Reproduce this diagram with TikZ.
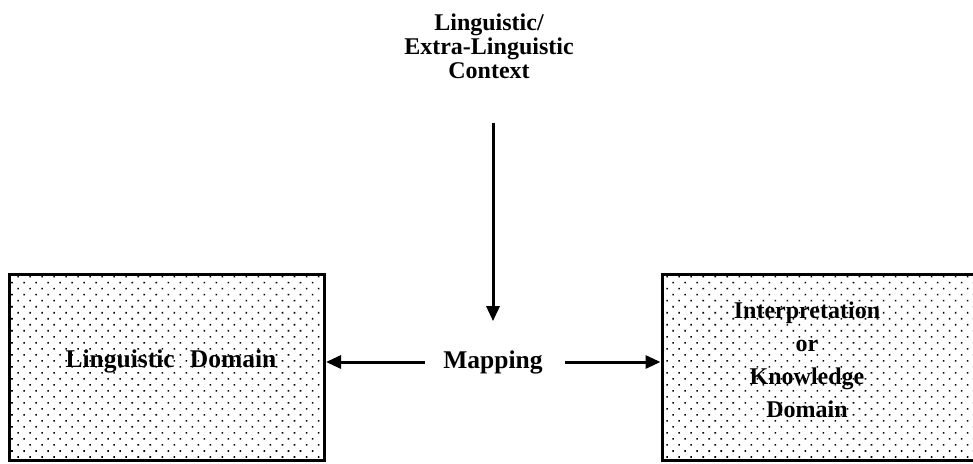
\documentclass[tikz,border=0pt]{standalone}
\usepackage{fontspec}
\setmainfont{Liberation Serif}
\usetikzlibrary{arrows.meta,patterns.meta}

\tikzset{
  domainbox/.style={draw=black, line width=3pt,
    pattern={Dots[distance=8.5pt, angle=45, radius=1.1pt]}, pattern color=black},
  labeltext/.style={font=\bfseries\fontsize{24}{24}\selectfont, align=center, inner sep=4pt},
  flow/.style={line width=3pt, -{Triangle[length=15pt, width=13pt]}},
}

\begin{document}
\begin{tikzpicture}[x=1pt, y=-1pt]
  \useasboundingbox (0,0) rectangle (973,463);
  \clip (0,0) rectangle (973,463);

  % the two domains
  \node[domainbox, minimum width=315pt, minimum height=186pt] (ling) at (167,367) {};
  \node[labeltext, font=\bfseries\fontsize{25.5}{26}\selectfont] (lingtxt) at (171,361)
    {Linguistic\hspace{0.6em}Domain};

  \node[domainbox, minimum width=330pt, minimum height=186pt] (know) at (827,367) {};
  \node[labeltext, font=\bfseries\fontsize{24}{33}\selectfont] (knowtxt) at (807,360)
    {Interpretation\\or\\Knowledge\\Domain};

  % context and mapping
  \node[labeltext] (ctx) at (489,46) {Linguistic/\\Extra-Linguistic\\Context};
  \node[labeltext, font=\bfseries\fontsize{25.5}{26}\selectfont] (map) at (493,362) {Mapping};

  % connectors
  \draw[flow, shorten <=40pt, shorten >=25pt] (ctx.south -| map.north) -- (map.north);
  \draw[flow, shorten <=14pt] (map.west) -- (map.west -| ling.east);
  \draw[flow, shorten <=18pt] (map.east) -- (map.east -| know.west);
\end{tikzpicture}
\end{document}
